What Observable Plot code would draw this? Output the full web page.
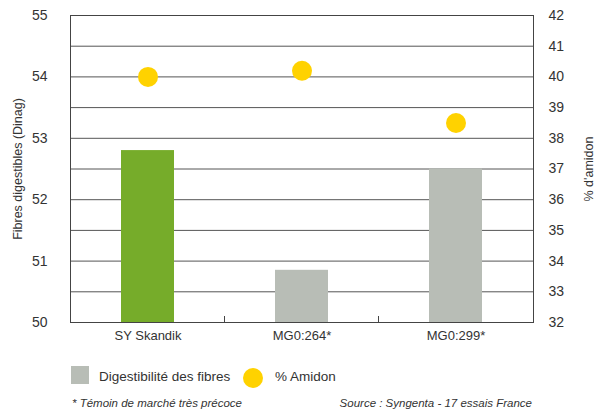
<!DOCTYPE html>
<html>
<head>
<meta charset="utf-8">
<script src="https://cdn.jsdelivr.net/npm/d3@7"></script>
<script src="https://cdn.jsdelivr.net/npm/@observablehq/plot@0.6"></script>
<style>
  body { margin: 0; background: #fff; font-family: "Liberation Sans", Arial, sans-serif; color: #333; }
  #wrap { position: relative; width: 597px; height: 412px; }
  #chart { position: absolute; left: 0; top: 0; }
  .leg { position: absolute; font-size: 13.5px; color: #333; white-space: nowrap; }
  .foot { position: absolute; font-size: 11.5px; font-style: italic; color: #333; white-space: nowrap; }
</style>
</head>
<body>
<div id="wrap">
  <div id="chart"></div>
  <div style="position:absolute;left:71px;top:366px;width:18px;height:18px;background:#b8bdb6"></div>
  <div class="leg" style="left:99px;top:369px;">Digestibilité des fibres</div>
  <div style="position:absolute;left:243px;top:368px;width:20px;height:20px;border-radius:50%;background:#ffd200"></div>
  <div class="leg" style="left:275px;top:369px;">% Amidon</div>
  <div class="foot" style="left:72px;top:397px;">* Témoin de marché très précoce</div>
  <div class="foot" style="right:65px;top:397px;">Source : Syngenta - 17 essais France</div>
</div>
<script>
const categories = ["SY Skandik", "MG0:264*", "MG0:299*"];
const fibres = [52.8, 50.85, 52.5];
const amidon = [40.0, 40.2, 38.5];
const barColors = ["#76ac2a", "#b8bdb6", "#b8bdb6"];
const leftTicks = [50, 51, 52, 53, 54, 55];
const rightTicks = [32, 33, 34, 35, 36, 37, 38, 39, 40, 41, 42];
const leftLabel = "Fibres digestibles (Dinag)";
const rightLabel = "% d'amidon";

// right axis (% amidon) mapped onto left scale (fibres)
const toLeft = a => 50 + (a - 32) / 2;
const toRight = l => 32 + (l - 50) * 2;

const data = categories.map((c, i) => ({cat: c, fibres: fibres[i], amidon: amidon[i], color: barColors[i]}));
const gridValues = rightTicks.slice(1).map(toLeft);

function bandTicks(index, scales) {
  const x = scales.x;
  let bw = typeof x.bandwidth === "function" ? x.bandwidth() : (x.bandwidth ?? (scales.scales && scales.scales.x && scales.scales.x.bandwidth) ?? 0);
  const y0 = scales.y(50);
  const g = d3.create("svg:g");
  for (let i = 1; i < categories.length; i++) {
    const xm = (x(categories[i - 1]) + x(categories[i])) / 2 + bw / 2;
    g.append("line").attr("x1", xm).attr("x2", xm).attr("y1", y0).attr("y2", y0 - 6)
      .attr("stroke", "#444").attr("stroke-width", 1);
  }
  return g.node();
}

const chart = Plot.plot({
  width: 597,
  height: 345,
  marginLeft: 70,
  marginRight: 64,
  marginTop: 15,
  marginBottom: 23,
  style: {fontFamily: "'Liberation Sans', Arial, sans-serif", fontSize: "14px", color: "#333", background: "#fff"},
  x: {domain: categories, paddingInner: 0.657, paddingOuter: 0.3285},
  y: {domain: [50, 55]},
  color: {type: "identity"},
  marks: [
    Plot.ruleY(gridValues, {stroke: "#555", strokeWidth: 1}),
    Plot.barY(data, {x: "cat", y1: 50, y2: "fibres", fill: "color"}),
    Plot.dot(data, {x: "cat", y: d => toLeft(d.amidon), r: 10, fill: "#ffd200", stroke: null}),
    Plot.ruleY([50], {stroke: "#333", strokeWidth: 1}),
    Plot.frame({stroke: "#444", strokeWidth: 1, fill: "none"}),
    bandTicks,
    Plot.axisY(leftTicks, {anchor: "left", tickSize: 0, tickPadding: 23, tickFormat: d => String(d), label: null, fontSize: 14}),
    Plot.axisY(rightTicks.map(toLeft), {anchor: "right", tickSize: 0, tickPadding: 15, tickFormat: d => String(Math.round(toRight(d))), label: null, fontSize: 14}),
    Plot.axisX({tickSize: 0, tickPadding: 8, label: null, fontSize: 13}),
    Plot.text([leftLabel], {frameAnchor: "left", textAnchor: "middle", rotate: -90, dx: -53, fontSize: 12.5, fill: "#333"}),
    Plot.text([rightLabel], {frameAnchor: "right", textAnchor: "middle", rotate: -90, dx: 55, fontSize: 12.5, fill: "#333"})
  ]
});
document.getElementById("chart").appendChild(chart);
</script>
</body>
</html>
